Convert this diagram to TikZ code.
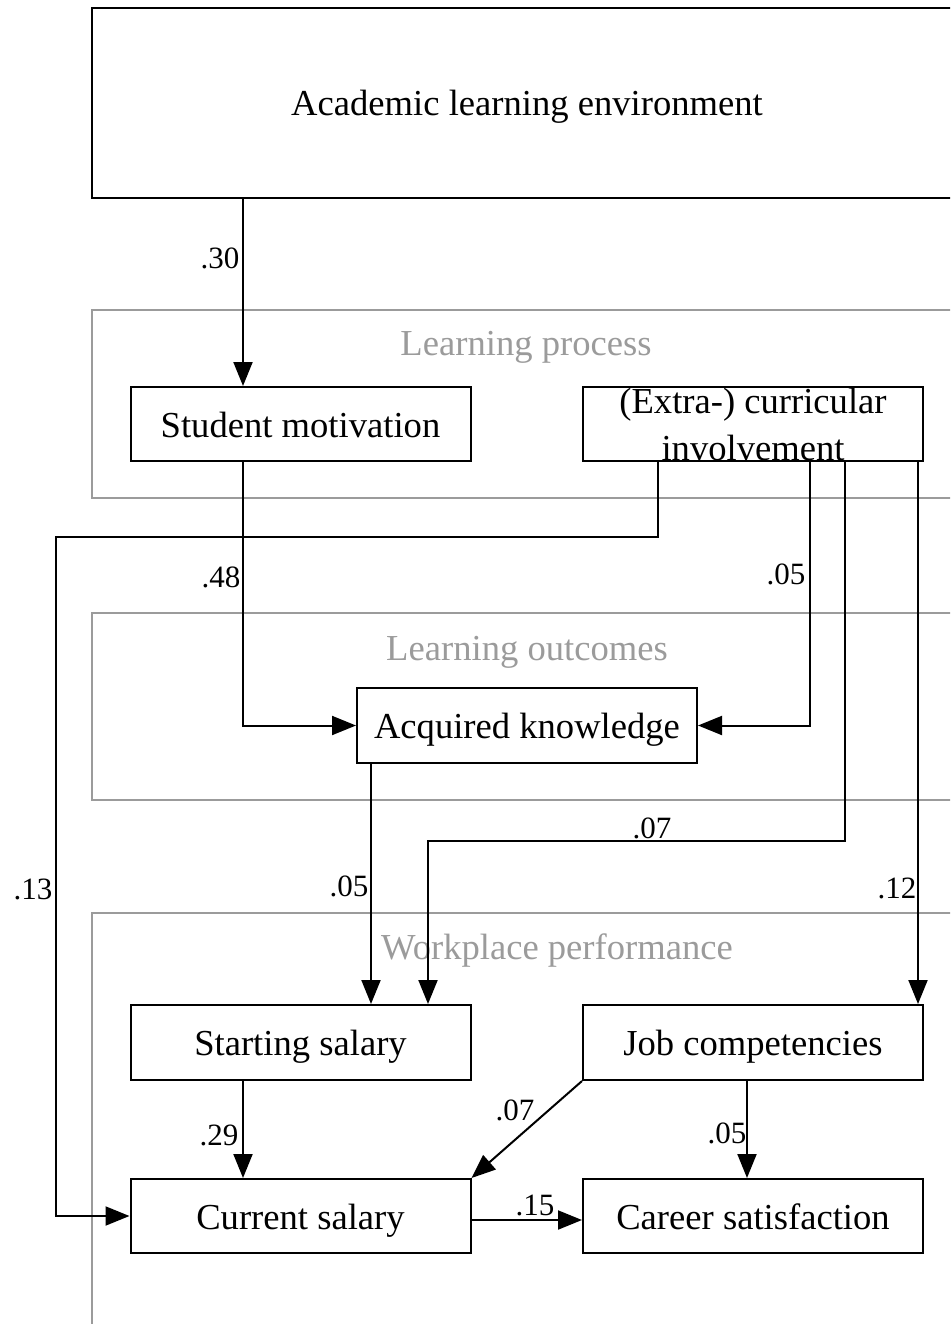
\documentclass[tikz,border=0pt]{standalone}
\usepackage{fontspec}
\setmainfont{Liberation Serif}
\usetikzlibrary{arrows.meta,calc}
\definecolor{grayc}{HTML}{9B9B9B}
\begin{document}
\begin{tikzpicture}[x=1pt,y=-1pt,
  box/.style={draw,line width=2pt,minimum width=340pt,minimum height=74pt,inner sep=0pt,
    font=\fontsize{36.6}{43}\selectfont,text height=26pt,text depth=0pt},
  grp/.style={draw=grayc,line width=2pt,inner sep=0pt},
  grplab/.style={text=grayc,font=\fontsize{36.6}{43}\selectfont,anchor=base,inner sep=0pt},
  coef/.style={font=\fontsize{31}{36}\selectfont,inner sep=0pt},
  arr/.style={line width=2pt,-{Triangle[length=24pt,width=19pt]}},
  ln/.style={line width=2pt}]
\useasboundingbox (0,0) rectangle (950,1324);
\clip (0,0) rectangle (950,1324);
% top box
\node[box,minimum width=870pt,minimum height=190pt] (ale) at (527,103) {Academic learning environment};
% groups
\node[grp,minimum width=870pt,minimum height=188pt] (lp) at (527,404) {};
\node[grp,minimum width=870pt,minimum height=187pt] (lo) at (527,706.5) {};
\node[grp,minimum width=870pt,minimum height=460pt] (wp) at (527,1143) {};
\node[grplab] (lpl) at (526,355) {Learning process};
\node[grplab] (lol) at (527,660) {Learning outcomes};
\node[grplab] (wpl) at (557,959) {Workplace performance};
% boxes
\node[box] (sm) at (300.5,424) {Student motivation};
\node[box] (ext) at (753,424) {};
\node[font=\fontsize{36.6}{47}\selectfont,align=center,inner sep=0pt] (extl) at (753,424) {(Extra-) curricular\\involvement};
\node[box,minimum height=75pt] (ak) at (527,725.5) {Acquired knowledge};
\node[box,minimum height=75pt] (ss) at (300.5,1042.5) {Starting salary};
\node[box,minimum height=75pt] (jc) at (753,1042.5) {Job competencies};
\node[box] (cs) at (300.5,1216) {Current salary};
\node[box] (csat) at (753,1216) {Career satisfaction};
% connectors
\coordinate (p1) at ([xshift=-57.5pt]sm.north);
\draw[arr] (ale.south -| p1) -- (p1);
\draw[arr] ([xshift=-57.5pt]sm.south) |- (ak.west);
\coordinate (b1) at (56,537);
\draw[arr] ([xshift=-95pt]ext.south) |- (b1) |- (cs.west);
\draw[arr] ([xshift=57pt]ext.south) |- (ak.east);
\draw[arr] ([xshift=92pt]ext.south) -- ++(0,379) -| ([xshift=127.5pt]ss.north);
\draw[arr] ([xshift=165pt]ext.south) -- ([xshift=165pt]jc.north);
\draw[arr] ([xshift=-156pt]ak.south) -- ([xshift=70.5pt]ss.north);
\draw[arr] ([xshift=-57.5pt]ss.south) -- ([xshift=-57.5pt]cs.north);
\draw[arr] (jc.south west) -- (cs.north east);
\draw[arr] ([xshift=-6pt]jc.south) -- ([xshift=-6pt]csat.north);
\draw[arr] ([yshift=-4pt]cs.east) -- ([yshift=-4pt]csat.west);
% coefficients
\node[coef] (c30) at (220,258) {.30};
\node[coef] (c48) at (221,577) {.48};
\node[coef] (c13) at (33,889) {.13};
\node[coef] (c05a) at (786,574) {.05};
\node[coef] (c07a) at (652,828) {.07};
\node[coef] (c05b) at (349,886) {.05};
\node[coef] (c12) at (897,888) {.12};
\node[coef] (c29) at (219,1135) {.29};
\node[coef] (c07b) at (515,1110) {.07};
\node[coef] (c05c) at (727,1133) {.05};
\node[coef] (c15) at (535,1205) {.15};
\end{tikzpicture}
\end{document}
